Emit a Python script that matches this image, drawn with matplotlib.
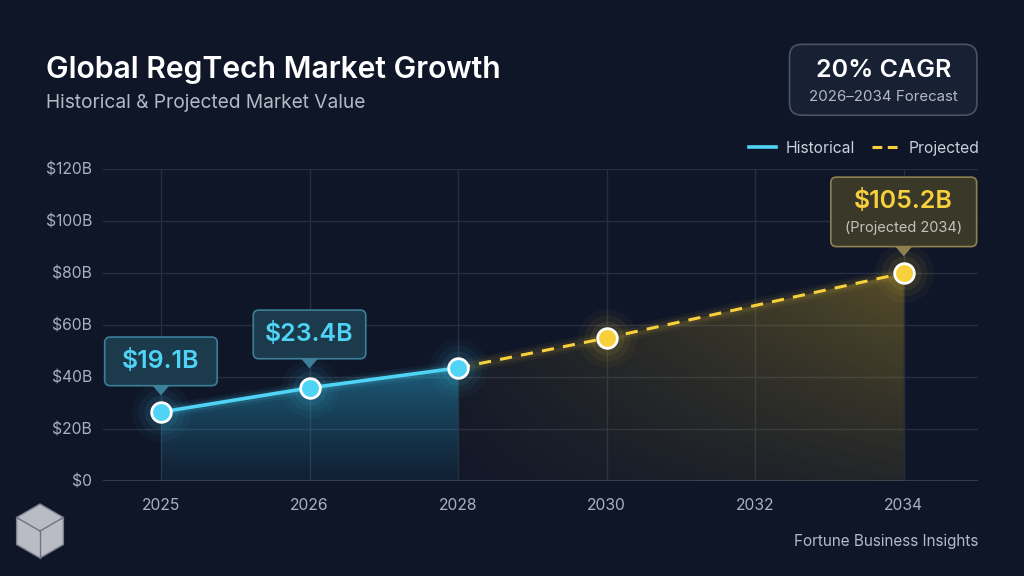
import numpy as np
import matplotlib.pyplot as plt
import matplotlib.transforms as mtransforms
from matplotlib.patches import FancyBboxPatch, Polygon
from matplotlib.lines import Line2D

plt.rcParams['font.family'] = ['Inter', 'DejaVu Sans']

# data ($B)
years = ['2025', '2026', '2028', '2030', '2032', '2034']
hist_idx = [0, 1, 2]
hist_vals = [26.5, 35.8, 43.5]
proj_idx = [2, 3, 5]
proj_vals = [43.5, 55.0, 80.0]
y_ticks = [0, 20, 40, 60, 80, 100, 120]
y_labels = ['$0', '$20B', '$40B', '$60B', '$80B', '$100B', '$120B']

callouts = [
    # (point index in hist, label)
    (0, '$19.1B'),
    (1, '$23.4B'),
]
end_label = '$105.2B'
end_sub = '(Projected 2034)'

BG = '#0f1628'
GRID = '#262e40'
CYAN = '#4fd4f5'
YELLOW = '#f7d03c'
TICK = '#a9b1be'

fig = plt.figure(figsize=(10.24, 5.76), dpi=100, facecolor=BG)
ax = fig.add_axes([0.1006, 0.165, 0.8545, 0.5416], facecolor=BG)
ax.set_xlim(-0.39, 5.5)
ax.set_ylim(0, 120)

ax.set_yticks(y_ticks)
ax.set_yticklabels(y_labels)
ax.set_xticks(range(len(years)))
ax.set_xticklabels(years)
ax.tick_params(length=0, colors=TICK, labelsize=11.3)
ax.tick_params(axis='y', pad=8)
ax.tick_params(axis='x', pad=12)
ax.grid(True, color=GRID, lw=1)
ax.set_axisbelow(True)
for s in ax.spines.values():
    s.set_visible(False)
ax.axhline(0, color='#394256', lw=1.2, zorder=1)


def gradient_fill(xs, ys, color, alpha_fn, zorder=1):
    poly = ax.fill_between(xs, ys, 0, color='none', lw=0)
    path = poly.get_paths()[0]
    x0, x1 = min(xs), max(xs)
    y0, y1 = 0, max(ys)
    nx, ny = 200, 200
    gx, gy = np.meshgrid(np.linspace(0, 1, nx), np.linspace(0, 1, ny))
    rgba = np.zeros((ny, nx, 4))
    rgba[..., :3] = plt.matplotlib.colors.to_rgb(color)
    rgba[..., 3] = alpha_fn(gx, gy)
    im = ax.imshow(rgba, extent=[x0, x1, y0, y1], origin='lower',
                   aspect='auto', zorder=zorder, interpolation='bilinear')
    im.set_clip_path(path, ax.transData)


gradient_fill(hist_idx, hist_vals, '#2fb2dc', lambda gx, gy: 0.07 + 0.38 * gy ** 1.2)
gradient_fill(proj_idx, proj_vals, '#d2ac2a',
              lambda gx, gy: (0.06 + 0.30 * gx) * (0.3 + 0.7 * gy))

# lines with soft glow
for lw, a in [(10, 0.06), (6, 0.12)]:
    ax.plot(hist_idx, hist_vals, color=CYAN, lw=lw, alpha=a, zorder=3,
            solid_capstyle='round')
    ax.plot(proj_idx, proj_vals, color=YELLOW, lw=lw, alpha=a * 0.7, zorder=3,
            solid_capstyle='round')
ax.plot(hist_idx, hist_vals, color=CYAN, lw=2.6, zorder=4)
ax.plot(proj_idx, proj_vals, color=YELLOW, lw=2.2, ls=(0, (4, 3)), zorder=4)

# markers with glow
for xs, ys, c in [(hist_idx, hist_vals, CYAN), (proj_idx[1:], proj_vals[1:], YELLOW)]:
    for s, a in [(1800, 0.035), (1100, 0.05), (600, 0.08)]:
        ax.scatter(xs, ys, s=s, color=c, alpha=a, lw=0, zorder=5)
    ax.scatter(xs, ys, s=200, color=c, edgecolor='white', lw=2, zorder=6)


def point_trans(x, y):
    return mtransforms.Affine2D().scale(fig.dpi / 72.0) + \
        mtransforms.ScaledTranslation(x, y, ax.transData)


def callout(x, y, dy, w, h, face, edge):
    tr = point_trans(x, y)
    box = FancyBboxPatch((-w / 2, dy - h / 2), w, h,
                         boxstyle='round,pad=0,rounding_size=4',
                         fc=face, ec=edge, lw=1.2, transform=tr, zorder=7,
                         clip_on=False)
    ax.add_patch(box)
    tri = Polygon([(-6, dy - h / 2), (6, dy - h / 2), (0, dy - h / 2 - 7)],
                  closed=True, fc=edge, ec='none', transform=tr, zorder=7,
                  clip_on=False)
    ax.add_patch(tri)


callout_dy = [36.5, 38.5]
for (i, label), dy in zip(callouts, callout_dy):
    x, y = hist_idx[i], hist_vals[i]
    callout(x, y, dy, 81, 35, '#1b3a4c', '#3b7f99')
    ax.annotate(label, (x, y), xytext=(0, dy), textcoords='offset points',
                ha='center', va='center', color=CYAN, fontsize=18,
                fontweight='semibold', zorder=8)

ex, ey = proj_idx[-1], proj_vals[-1]
callout(ex, ey, 44, 105, 50, '#3a3829', '#8e8150')
ax.annotate(end_label, (ex, ey), xytext=(0, 52), textcoords='offset points',
            ha='center', va='center', color=YELLOW, fontsize=18,
            fontweight='semibold', zorder=8)
ax.annotate(end_sub, (ex, ey), xytext=(0, 32.5), textcoords='offset points',
            ha='center', va='center', color='#c4c2b8', fontsize=10.5, zorder=8)

# titles
fig.text(0.045, 0.879, 'Global RegTech Market Growth', color='white',
         fontsize=21.7, fontweight='semibold', va='center')
fig.text(0.045, 0.821, 'Historical & Projected Market Value', color='#b3bac6',
         fontsize=13.8, va='center')

# CAGR badge
badge = FancyBboxPatch((0.771, 0.8), 0.183, 0.123,
                       boxstyle='round,pad=0,rounding_size=0.012',
                       transform=fig.transFigure, fc='#182033', ec='#4a5366',
                       lw=1.2, mutation_aspect=1.78)
fig.patches.append(badge)
fig.text(0.8625, 0.877, '20% CAGR', color='white', fontsize=18,
         fontweight='semibold', ha='center', va='center')
fig.text(0.8625, 0.831, '2026\u20132034 Forecast', color='#b3bac6',
         fontsize=10.8, ha='center', va='center')

# legend
handles = [Line2D([], [], color=CYAN, lw=2.6),
           Line2D([], [], color=YELLOW, lw=2.2, ls=(0, (3.2, 1.8)))]
leg = fig.legend(handles, ['Historical', 'Projected'], loc='center right',
                 bbox_to_anchor=(0.970, 0.743), ncol=2, frameon=False,
                 fontsize=11.3, handlelength=1.7, handletextpad=0.6,
                 columnspacing=1.1)
for t in leg.get_texts():
    t.set_color('#c9d0db')

# source
fig.text(0.955, 0.06, 'Fortune Business Insights', color='#b3bac6',
         fontsize=11, ha='right', va='center')

# logo mark (small grey cube, in inches from the figure corner)
cx, cy, r = 0.40, 0.45, 0.27
hexv = [(cx + r * np.cos(np.radians(a)), cy + r * np.sin(np.radians(a)))
        for a in range(90, 450, 60)]
fig.patches.append(Polygon(hexv, closed=True, transform=fig.dpi_scale_trans,
                           fc='#b9bcc4', ec='#7d808a', lw=1))
for a in (210, 330, 90):
    fig.lines.append(Line2D([cx, cx + r * np.cos(np.radians(a + 180))],
                            [cy, cy + r * np.sin(np.radians(a + 180))],
                            transform=fig.dpi_scale_trans, color='#6f737d', lw=1))

fig.savefig('out.png', dpi=100, facecolor=BG)
